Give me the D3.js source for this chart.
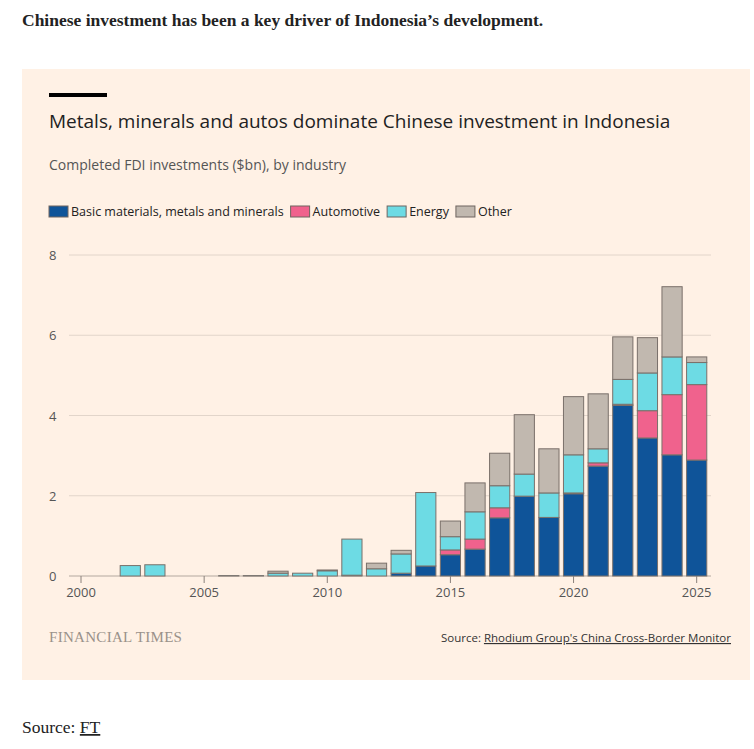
<!DOCTYPE html>
<html><head><meta charset="utf-8">
<script src="https://cdn.jsdelivr.net/npm/d3@7"></script>
<style>body{margin:0;background:#fff;}svg{display:block}</style>
</head><body><svg id="c" width="754" height="749"></svg>
<script>
const years = d3.range(2000, 2026);
const basic = [0,0,0,0,0,0,0,0,0,0,0,0.02,0,0.07,0.25,0.53,0.67,1.45,1.99,1.46,2.05,2.74,4.25,3.44,3.02,2.89];
const auto  = [0,0,0,0,0,0,0,0,0,0,0,0,0,0,0,0.12,0.25,0.25,0,0,0.02,0.08,0.03,0.68,1.50,1.88];
const energy= [0,0,0.26,0.28,0,0,0.01,0.01,0.07,0.07,0.13,0.90,0.18,0.48,1.83,0.33,0.68,0.55,0.55,0.61,0.95,0.35,0.62,0.94,0.94,0.55];
const other = [0,0,0,0,0,0,0,0,0.05,0,0.02,0,0.14,0.09,0,0.39,0.72,0.81,1.48,1.10,1.45,1.37,1.06,0.88,1.75,0.14];
const seriesNames = ["Basic materials, metals and minerals","Automotive","Energy","Other"];
const colors = ["#0f5499","#f0628d","#6ddbe4","#c1b8af"];
const yTicks = [0,2,4,6,8];
const xTicks = [2000,2005,2010,2015,2020,2025];

const svg = d3.select("#c");
svg.append("text").attr("x",22).attr("y",26).attr("font-family","Liberation Serif, serif").attr("font-weight","bold").attr("font-size",17.5).attr("fill","#222").text("Chinese investment has been a key driver of Indonesia’s development.");
svg.append("rect").attr("x",22).attr("y",69).attr("width",728).attr("height",611).attr("fill","#fff1e5");
svg.append("rect").attr("x",49).attr("y",93).attr("width",58).attr("height",4).attr("fill","#000");
const sans="Open Sans, sans-serif";
svg.append("text").attr("x",49).attr("y",128).attr("font-family",sans).attr("font-size",19).attr("fill","#222").text("Metals, minerals and autos dominate Chinese investment in Indonesia");
svg.append("text").attr("x",49).attr("y",170).attr("font-family",sans).attr("font-size",14).attr("fill","#555").text("Completed FDI investments ($bn), by industry");

// legend
let lx=49;
const lg=svg.append("g");
seriesNames.forEach((n,i)=>{
  lg.append("rect").attr("x",lx).attr("y",206).attr("width",19).attr("height",11).attr("fill",colors[i]).attr("stroke","#6e6560");
  const t=lg.append("text").attr("x",lx+22).attr("y",216).attr("font-family",sans).attr("font-size",12.5).attr("fill","#222").text(n);
  lx+=22+t.node().getComputedTextLength()+7;
});

const x=d3.scaleBand().domain(years).range([68.7,709]).paddingInner(0.18).paddingOuter(0.09);
const y=d3.scaleLinear().domain([0,8]).range([576,255]);
const g=svg.append("g");
yTicks.forEach(t=>{
  g.append("line").attr("x1",69).attr("x2",711).attr("y1",y(t)).attr("y2",y(t)).attr("stroke",t===0?"#b3a89f":"#e2d5ca").attr("stroke-width",1);
  g.append("text").attr("x",49).attr("y",y(t)+5).attr("font-family",sans).attr("font-size",13).attr("fill","#555").text(t);
});
const data=years.map((yr,i)=>({year:yr,a:basic[i],b:auto[i],c:energy[i],d:other[i]}));
const stack=d3.stack().keys(["a","b","c","d"])(data);
stack.forEach((s,si)=>{
  g.selectAll(null).data(s.filter(d=>d[1]-d[0]>0)).enter().append("rect")
   .attr("x",d=>x(d.data.year)).attr("width",x.bandwidth())
   .attr("y",d=>y(d[1])).attr("height",d=>y(d[0])-y(d[1]))
   .attr("fill",colors[si]).attr("stroke","#7a706a").attr("stroke-width",1);
});
xTicks.forEach(t=>{
  const cx=x(t)+x.bandwidth()/2;
  g.append("line").attr("x1",cx).attr("x2",cx).attr("y1",576).attr("y2",583).attr("stroke","#8a807a");
  g.append("text").attr("x",cx).attr("y",597).attr("text-anchor","middle").attr("font-family",sans).attr("font-size",13).attr("fill","#555").text(t);
});

svg.append("text").attr("x",49).attr("y",642).attr("font-family","Liberation Serif, serif").attr("font-size",15).attr("fill","#9a918a").attr("letter-spacing",0.3).text("FINANCIAL TIMES");
const src=svg.append("text").attr("x",731).attr("y",642).attr("text-anchor","end").attr("font-family",sans).attr("font-size",11.5).attr("fill","#333");
src.append("tspan").text("Source: ");
src.append("tspan").attr("text-decoration","underline").text("Rhodium Group's China Cross-Border Monitor");
const s2=svg.append("text").attr("x",22).attr("y",733).attr("font-family","Liberation Serif, serif").attr("font-size",17.5).attr("fill","#222");
s2.append("tspan").text("Source: ");
s2.append("tspan").attr("text-decoration","underline").text("FT");
</script></body></html>
